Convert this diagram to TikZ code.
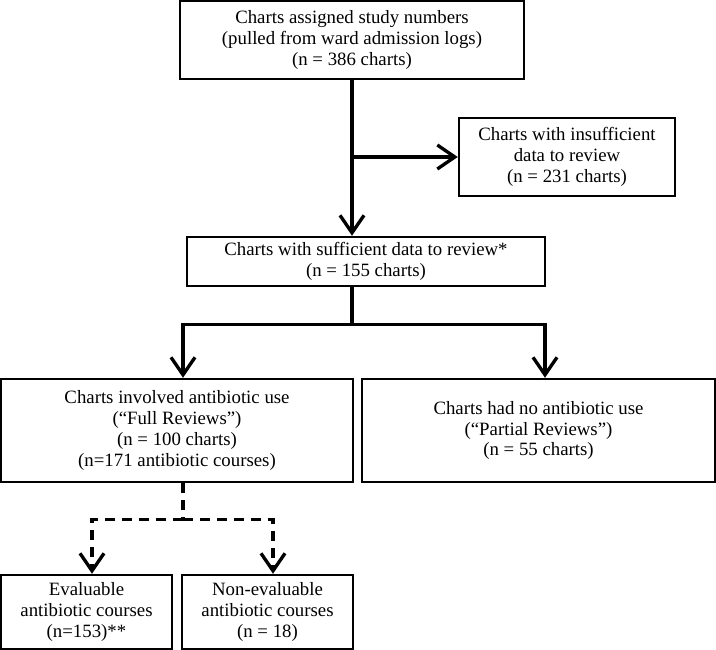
\documentclass[tikz,border=0pt]{standalone}
\usepackage{fontspec}
\setmainfont{Liberation Serif}
\usetikzlibrary{arrows.meta}
\tikzstyle{chartbox} = [rectangle, draw=black, line width=1.4pt, align=center, inner sep=0pt, font=\fontsize{10.7}{11.9}\selectfont]
\tikzstyle{link} = [line width=1.8pt]
\tikzstyle{arrow} = [line width=1.8pt, -{Straight Barb[length=3.5mm, width=4.8mm, line width=1.9pt]}]
\tikzstyle{dashlink} = [line width=1.8pt, dash pattern=on 2mm off 1.4mm]
\tikzstyle{dasharrow} = [dashlink, -{Straight Barb[length=3.5mm, width=4.8mm, line width=1.9pt]}]

\begin{document}
\begin{tikzpicture}[node distance=2cm]
	\useasboundingbox (0,0) rectangle (14.32,-13);
	\node (n0) [chartbox, minimum width=6.88cm, minimum height=1.56cm] at (7.04,-0.80) {Charts assigned study numbers\\(pulled from ward admission logs)\\(n = 386 charts)};
	\node (n1) [chartbox, minimum width=4.32cm, minimum height=1.56cm, right of=n0, xshift=2.30cm, yshift=-2.34cm] {Charts with insufficient\\data to review\\(n = 231 charts)};
	\node (n2) [chartbox, minimum width=7.16cm, minimum height=0.98cm, below of=n0, xshift=0.28cm, yshift=-2.43cm] {Charts with sufficient data to review*\\(n = 155 charts)};
	\node (n3) [chartbox, minimum width=7.04cm, minimum height=2.06cm, below of=n2, xshift=-3.78cm, yshift=-1.38cm] {Charts involved antibiotic use\\(``Full Reviews'')\\(n = 100 charts)\\(n=171 antibiotic courses)};
	\node (n4) [chartbox, minimum width=7.06cm, minimum height=2.06cm, right of=n3, xshift=5.23cm] {Charts had no antibiotic use\\(``Partial Reviews'')\\(n = 55 charts)};
	\node (n5) [chartbox, minimum width=3.42cm, minimum height=1.48cm, below of=n3, xshift=-1.81cm, yshift=-1.63cm] {Evaluable\\antibiotic courses\\(n=153)**};
	\node (n6) [chartbox, minimum width=3.42cm, minimum height=1.48cm, right of=n5, xshift=1.62cm] {Non-evaluable\\antibiotic courses\\(n = 18)};

	\draw [arrow] (n0.south) -- (n0.south |- n2.north);
	\draw [arrow] (n0.south |- n1.west) -- (n1.west);

	\draw [link] (n0.south |- n2.south) -- ++(0,-0.74) coordinate (s1);
	\draw [arrow] (s1) -| ([xshift=0.12cm]n3.north);
	\draw [arrow] (s1) -| ([xshift=0.13cm]n4.north);

	\draw [dashlink] ([xshift=0.12cm]n3.south) -- ++(0,-0.72) coordinate (s2);
	\draw [dasharrow] (s2) -| ([xshift=0.11cm]n5.north);
	\draw [dasharrow] (s2) -| ([xshift=0.11cm]n6.north);
\end{tikzpicture}
\end{document}
